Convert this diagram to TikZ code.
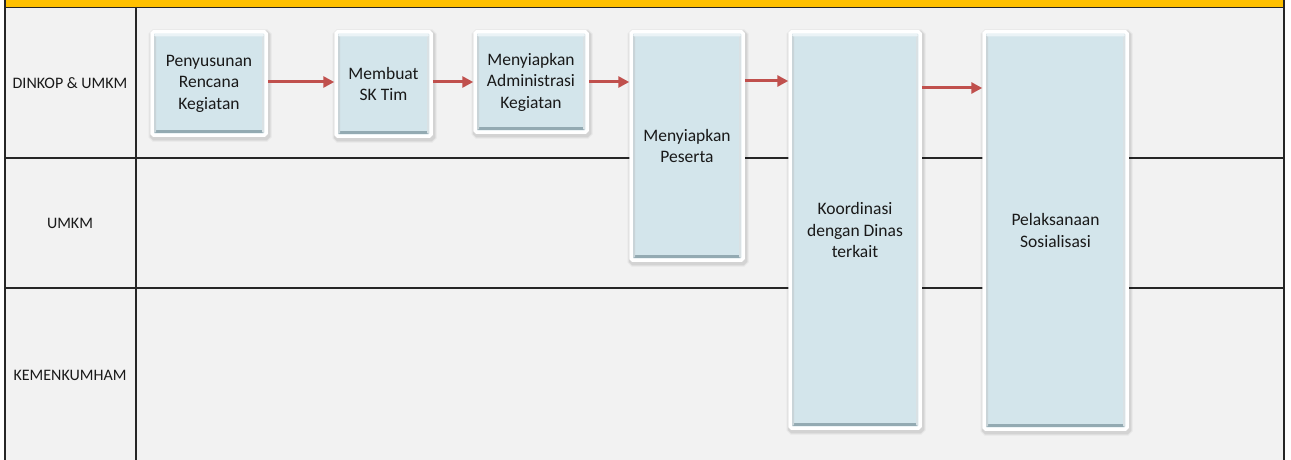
\documentclass[tikz,border=0pt]{standalone}
\usepackage{fontspec}
\setmainfont{Carlito}
\usetikzlibrary{arrows.meta}
\definecolor{lanegray}{HTML}{F2F2F2}
\definecolor{bandyellow}{HTML}{FFC000}
\definecolor{boxblue}{HTML}{D3E5EB}
\definecolor{boxedge}{HTML}{93AAB2}
\definecolor{flowred}{HTML}{C0504D}
\tikzset{
  lane/.style={draw=black!85,line width=1.1pt},
  lanelabel/.style={font=\fontsize{16}{19}\selectfont,text=black!90},
  softshadow/.style={preaction={draw=black,line width=9pt,opacity=0.05,
      transform canvas={shift={(1pt,-2pt)}}},
    preaction={draw=black,line width=6.5pt,opacity=0.08,
      transform canvas={shift={(1pt,-2pt)}}}},
  stepbox/.style={rectangle,rounded corners=1.5pt,draw=white,line width=3.5pt,fill=boxblue,
    align=center,text=black!90,inner sep=2pt,
    font=\fontsize{17.5}{21.5}\selectfont,softshadow,
    path picture={
      \fill[boxedge] ([xshift=1.8pt,yshift=1.8pt]path picture bounding box.south west) rectangle
                     ([xshift=-1.8pt,yshift=5pt]path picture bounding box.south east);
      \fill[boxedge!50] ([xshift=1.8pt,yshift=1.8pt]path picture bounding box.south west) rectangle
                     ([xshift=4pt,yshift=-1.8pt]path picture bounding box.north west);
      \fill[boxedge!35] ([xshift=-1.8pt,yshift=1.8pt]path picture bounding box.south east) rectangle
                     ([xshift=-4pt,yshift=-1.8pt]path picture bounding box.north east);
      \fill[white!55!boxblue] ([xshift=1.8pt,yshift=-1.8pt]path picture bounding box.north west) rectangle
                     ([xshift=-1.8pt,yshift=-4.5pt]path picture bounding box.north east);
    }},
  flow/.style={draw=flowred,line width=3pt,-{Triangle[length=11pt,width=11pt]}}
}
\begin{document}
\begin{tikzpicture}[x=1pt,y=-1pt]
  \useasboundingbox (0,0) rectangle (1291,460);
  \fill[white] (0,0) rectangle (1291,460);
  % swimlane frame
  \fill[lanegray] (5,7) rectangle (1284,460);
  \fill[bandyellow] (5,0) rectangle (1284,7);
  \draw[lane] (5,7.5) -- (1284,7.5);
  \draw[lane] (5,0) -- (5,460);
  \draw[lane] (1284,0) -- (1284,460);
  \draw[lane] (136,7) -- (136,460);
  \draw[lane] (5,158) -- (1284,158);
  \draw[lane] (5,288) -- (1284,288);
  % lane titles
  \node[lanelabel] (l1) at (70,83) {DINKOP \& UMKM};
  \node[lanelabel] (l2) at (70,223) {UMKM};
  \node[lanelabel] (l3) at (70,375) {KEMENKUMHAM};
  % process steps
  \node[stepbox,minimum width=114pt,minimum height=103pt] (b1) at (209,83.5)
    {Penyusunan\\Rencana\\Kegiatan};
  \node[stepbox,minimum width=95pt,minimum height=104pt] (b2) at (383.5,84)
    {Membuat\\SK Tim};
  \node[stepbox,minimum width=112pt,minimum height=100pt] (b3) at (531,82)
    {Menyiapkan\\Administrasi\\Kegiatan};
  \node[stepbox,minimum width=112pt,minimum height=228pt] (b4) at (687,146)
    {Menyiapkan\\Peserta};
  \node[stepbox,minimum width=130pt,minimum height=396pt] (b5) at (855,230)
    {Koordinasi\\dengan Dinas\\terkait};
  \node[stepbox,minimum width=143pt,minimum height=397pt] (b6) at (1055.5,230.5)
    {Pelaksanaan\\Sosialisasi};
  % flow
  \draw[flow] (b1.east |- 0,82) -- (b2.west |- 0,82);
  \draw[flow] (b2.east |- 0,82) -- (b3.west |- 0,82);
  \draw[flow] (b3.east |- 0,82) -- (b4.west |- 0,82);
  \draw[flow] (b4.east |- 0,81) -- (b5.west |- 0,81);
  \draw[flow] (b5.east |- 0,88) -- (b6.west |- 0,88);
\end{tikzpicture}
\end{document}
